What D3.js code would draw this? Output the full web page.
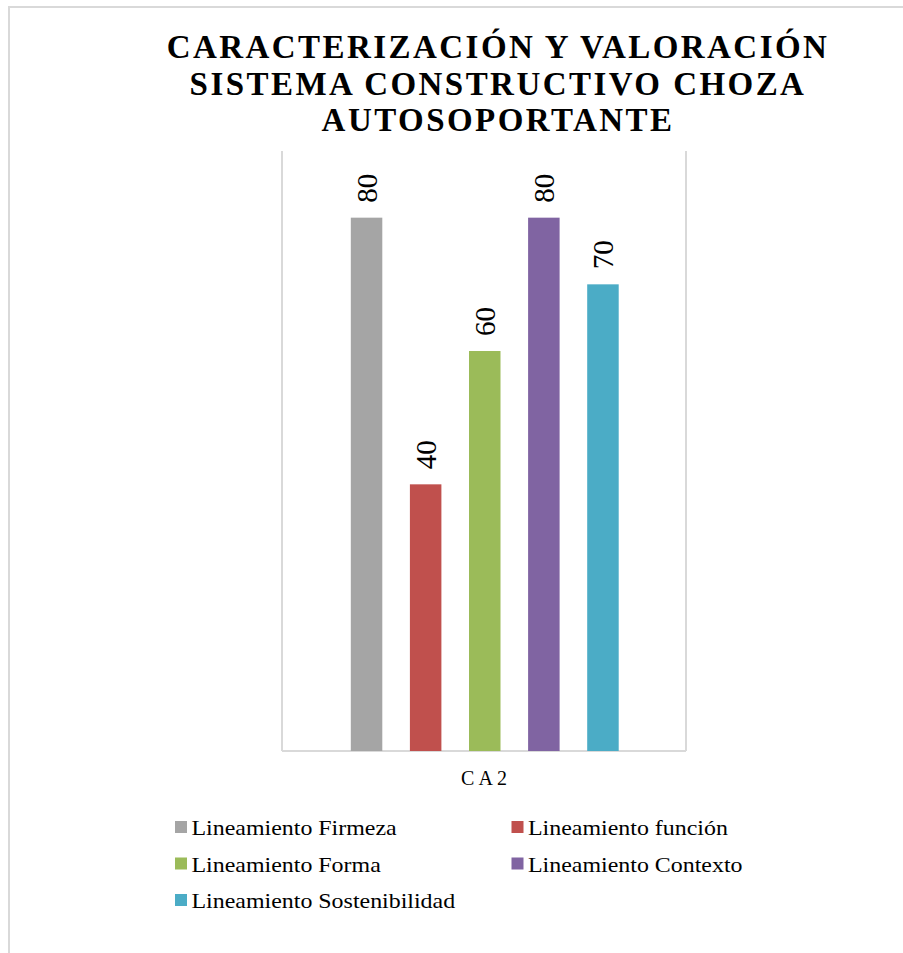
<!DOCTYPE html>
<html>
<head>
<meta charset="utf-8">
<script src="https://cdn.jsdelivr.net/npm/d3@7"></script>
<style>
  body { margin: 0; background: #fff; }
</style>
</head>
<body>
<svg id="drawing_region"></svg>
<script>
const categories = ["Lineamiento Firmeza", "Lineamiento función", "Lineamiento Forma", "Lineamiento Contexto", "Lineamiento Sostenibilidad"];
const values = [80, 40, 60, 80, 70];
const colors = ["#a5a5a5", "#c0504d", "#9bbb59", "#8064a2", "#4bacc6"];
const titleLines = ["CARACTERIZACIÓN Y VALORACIÓN", "SISTEMA CONSTRUCTIVO CHOZA", "AUTOSOPORTANTE"];
const groupLabel = "CA2";

const width = 903, height = 953;
const plot = { left: 282, right: 686, top: 151, bottom: 751 };
const serif = "'Liberation Serif', 'Times New Roman', serif";

const svg = d3.select('#drawing_region')
    .attr('width', width)
    .attr('height', height)
    .style('font-family', serif);

// outer chart border (runs off the page right and bottom)
svg.append('rect')
    .attr('x', 9).attr('y', 7)
    .attr('width', 1000).attr('height', 1000)
    .attr('fill', 'none')
    .attr('stroke', '#d9d9d9')
    .attr('stroke-width', 2);

// title
svg.append('g').selectAll('text')
    .data(titleLines)
    .join('text')
    .attr('x', 498)
    .attr('y', (d, i) => 58 + i * 36.5)
    .attr('text-anchor', 'middle')
    .attr('font-size', 33)
    .attr('font-weight', 'bold')
    .attr('letter-spacing', 2.45)
    .attr('fill', '#000')
    .text(d => d);

const xscale = d3.scaleBand()
    .domain(categories)
    .range([337, 632.5])
    .paddingInner(0.467)
    .paddingOuter(0.2335);

const yscale = d3.scaleLinear()
    .domain([0, 90])
    .range([plot.bottom, plot.top]);

// plot area border: left, right, bottom
const border = svg.append('g')
    .attr('stroke', '#d9d9d9')
    .attr('stroke-width', 2);
border.append('line').attr('x1', plot.left).attr('x2', plot.left).attr('y1', plot.top).attr('y2', plot.bottom);
border.append('line').attr('x1', plot.right).attr('x2', plot.right).attr('y1', plot.top).attr('y2', plot.bottom);

svg.append('g').selectAll('rect')
    .data(values)
    .join('rect')
    .attr('x', (d, i) => xscale(categories[i]))
    .attr('y', d => yscale(d))
    .attr('width', xscale.bandwidth())
    .attr('height', d => yscale(0) - yscale(d))
    .attr('fill', (d, i) => colors[i]);

border.append('line').attr('x1', plot.left).attr('x2', plot.right).attr('y1', plot.bottom).attr('y2', plot.bottom);

// rotated value labels
svg.append('g').selectAll('text')
    .data(values)
    .join('text')
    .attr('transform', (d, i) => `translate(${xscale(categories[i]) + xscale.bandwidth() / 2}, ${yscale(d) - 15}) rotate(-90)`)
    .attr('dy', '0.35em')
    .attr('font-size', 29)
    .attr('fill', '#000')
    .text(d => d);

// category label
svg.append('text')
    .attr('x', 486)
    .attr('y', 785)
    .attr('text-anchor', 'middle')
    .attr('font-size', 20)
    .attr('letter-spacing', 4)
    .attr('fill', '#000')
    .text(groupLabel);

// legend
const legend = svg.append('g').selectAll('g')
    .data(categories)
    .join('g')
    .attr('transform', (d, i) => `translate(${i % 2 === 0 ? 175 : 511.5}, ${827 + Math.floor(i / 2) * 36.5})`);

legend.append('rect')
    .attr('x', 0).attr('y', -6)
    .attr('width', 12).attr('height', 12)
    .attr('fill', (d, i) => colors[i]);

legend.append('text')
    .attr('transform', 'translate(16.5, 8) scale(1.15, 1)')
    .attr('font-size', 20.8)
    .attr('fill', '#000')
    .text(d => d);
</script>
</body>
</html>
